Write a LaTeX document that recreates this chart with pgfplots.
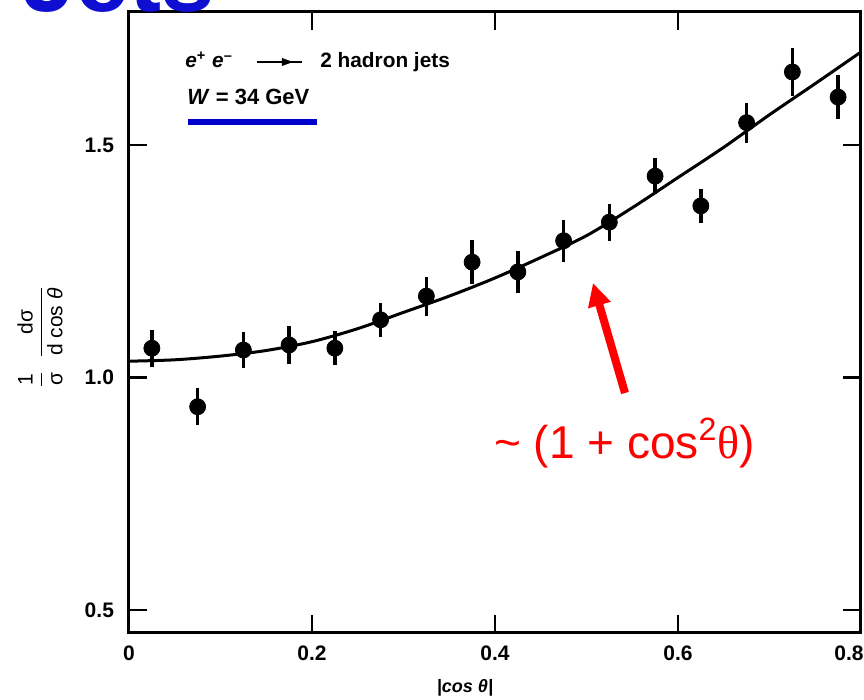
\documentclass[border=0pt]{standalone}
\usepackage{amsmath}
\usepackage{pgfplots}
\pgfplotsset{compat=1.18}
\usepackage{pgfplotstable}
\usepackage{fontspec}
\setmainfont{Liberation Sans}
\newfontfamily\serifgr{Liberation Serif}
\usetikzlibrary{arrows.meta}
\definecolor{titleblue}{RGB}{15,15,210}
\definecolor{lineblue}{RGB}{0,0,205}

\pgfplotstableread{
x      y      e
0.025  1.063  0.040
0.075  0.937  0.040
0.125  1.059  0.038
0.175  1.070  0.040
0.225  1.063  0.037
0.275  1.124  0.036
0.325  1.175  0.042
0.375  1.248  0.047
0.425  1.227  0.046
0.475  1.294  0.045
0.525  1.334  0.040
0.575  1.433  0.039
0.625  1.369  0.037
0.675  1.548  0.043
0.725  1.657  0.052
0.775  1.603  0.047
}\datatable

\begin{document}
\begin{tikzpicture}
\begin{axis}[
  scale only axis, width=366pt, height=310.5pt,
  xmin=0, xmax=0.8, ymin=0.4505, ymax=1.786,
  axis line style={line width=1.5pt},
  xtick={0,0.2,0.4,0.6}, ytick={0.5,1.0,1.5},
  extra x ticks={0.8},
  extra x tick style={xticklabel style={xshift=-6pt}},
  tick align=inside, tick pos=both, major tick length=9pt,
  tick style={line width=1.2pt, black},
  /pgf/number format/assume math mode=true,
  ticklabel style={font=\fontsize{10.5}{12}\selectfont\bfseries},
  yticklabel style={/pgf/number format/fixed, /pgf/number format/fixed zerofill, /pgf/number format/precision=1, xshift=-4pt},
  xticklabel style={yshift=-3pt},
  clip=false,
]
\addplot[smooth, line width=1.5pt, black] coordinates {
(0,1.035) (0.05,1.038) (0.1,1.046) (0.15,1.058) (0.2,1.077) (0.25,1.105)
(0.3,1.14) (0.35,1.175) (0.4,1.214) (0.45,1.258) (0.5,1.305) (0.55,1.365)
(0.6,1.43) (0.65,1.495) (0.7,1.565) (0.75,1.632) (0.8,1.70)};
\addplot[only marks, black, mark=*, mark size=4pt,
  error bars/.cd, y dir=both, y explicit,
  error bar style={line width=1.8pt}, error mark=none]
  table[x=x, y=y, y error=e] {\datatable};
\end{axis}

% y label
\node[rotate=90, font=\fontsize{10.5}{12}\selectfont] at (-44.5pt,148pt)
  {$\dfrac{\text{1}}{\text{σ}}\;\;\dfrac{\text{dσ}}{\text{d cos \textit{θ}}}$};
% x label
\node[font=\fontsize{9}{11}\selectfont\itshape\bfseries] at (168pt,-27.5pt) {|cos θ|};

% legend text
\node[anchor=base west, inner sep=0pt, font=\fontsize{10.4}{12}\selectfont\bfseries] at (28pt,282.5pt)
  {\textit{e}\textsuperscript{+} \textit{e}\textsuperscript{--}};
\draw[line width=1.2pt] (64pt,285.5pt) -- (86.5pt,285.5pt);
\fill (82pt,285.5pt) -- (76.5pt,287.5pt) -- (76.5pt,283.5pt) -- cycle;
\node[anchor=base west, inner sep=0pt, font=\fontsize{10.4}{12}\selectfont\bfseries] at (95.5pt,282.5pt)
  {2 hadron jets};
\node[anchor=base west, inner sep=0pt, font=\fontsize{11}{12}\selectfont\bfseries] at (29pt,264pt)
  {\textit{W} = 34 GeV};
\draw[lineblue, line width=3pt] (29.5pt,255.5pt) -- (94pt,255.5pt);

% red annotation
\draw[red, line width=4pt, -{Triangle[length=11.5pt,width=11pt]}] (248pt,120pt) -- (232pt,175pt);
\node[anchor=base, red, inner sep=0pt, font=\fontsize{23}{26}\selectfont] at (247.75pt,87pt)
  {\textasciitilde{} (1 + cos\textsuperscript{2}{\serifgr θ})};

% clipped title
\begin{scope}
\clip (-64.5pt,-33.5pt) rectangle (367.5pt,316.5pt);
\node[anchor=base east, inner sep=0pt, titleblue, font=\fontsize{48}{52}\selectfont\bfseries] at (43pt,310.5pt) {r Jets};
\end{scope}

\pgfresetboundingbox
\path[use as bounding box] (-64.5pt,-33.5pt) rectangle (367.5pt,316.5pt);
\end{tikzpicture}
\end{document}
